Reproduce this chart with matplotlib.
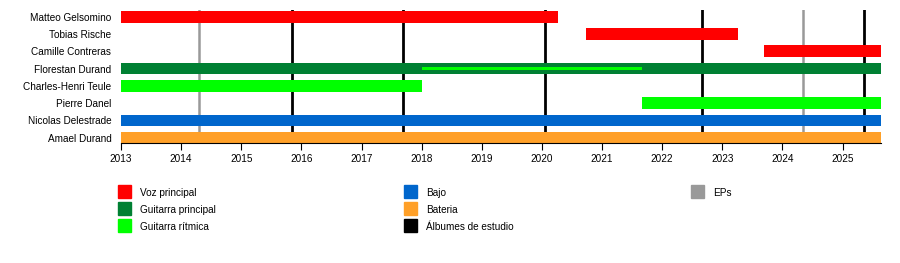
import matplotlib
matplotlib.use("Agg")
import matplotlib.pyplot as plt
from matplotlib.patches import Rectangle

plt.rcParams['font.family'] = ['Liberation Sans', 'DejaVu Sans']

# Members, top to bottom
members = ["Matteo Gelsomino", "Tobias Rische", "Camille Contreras",
           "Florestan Durand", "Charles-Henri Teule", "Pierre Danel",
           "Nicolas Delestrade", "Amael Durand"]

end_date = 2025.64

# (member, start, end, role)
periods = [
    ("Matteo Gelsomino", 2013.0, 2020.27, "Voz principal"),
    ("Tobias Rische", 2020.74, 2023.26, "Voz principal"),
    ("Camille Contreras", 2023.70, end_date, "Voz principal"),
    ("Florestan Durand", 2013.0, end_date, "Guitarra principal"),
    ("Charles-Henri Teule", 2013.0, 2018.0, "Guitarra rítmica"),
    ("Pierre Danel", 2021.66, end_date, "Guitarra rítmica"),
    ("Nicolas Delestrade", 2013.0, end_date, "Bajo"),
    ("Amael Durand", 2013.0, end_date, "Bateria"),
]
# secondary role drawn as a thin bar
thin_periods = [("Florestan Durand", 2018.0, 2021.67, "Guitarra rítmica")]

albums = [2015.84, 2017.69, 2020.06, 2022.67, 2025.35]
eps = [2014.29, 2024.35]

colors = {
    "Voz principal": "#ff0000",
    "Guitarra principal": "#008033",
    "Guitarra rítmica": "#00ff00",
    "Bajo": "#0066cc",
    "Bateria": "#ffa028",
    "Álbumes de estudio": "#000000",
    "EPs": "#999999",
}

W, H = 900, 263
fig = plt.figure(figsize=(9, 2.63), dpi=100)
ax = fig.add_axes([121 / W, 1 - 143.3 / H, (881 - 121) / W, (143.3 - 10) / H])

ypos = {m: len(members) - 1 - i for i, m in enumerate(members)}

for x in albums:
    ax.axvline(x, color=colors["Álbumes de estudio"], lw=2.0, zorder=1)
for x in eps:
    ax.axvline(x, color=colors["EPs"], lw=1.8, zorder=1)

for m, s, e, role in periods:
    ax.barh(ypos[m], e - s, left=s, height=0.68, color=colors[role], zorder=2)
for m, s, e, role in thin_periods:
    ax.barh(ypos[m], e - s, left=s, height=0.2, color=colors[role], zorder=3)

ax.set_xlim(2013, end_date)
ax.set_ylim(-0.32, 7.39)
ax.set_xticks(range(2013, 2026))
ax.set_xticklabels([str(y) for y in range(2013, 2026)], fontsize=7.2)
ax.set_yticks([ypos[m] for m in members])
ax.set_yticklabels(members, fontsize=7.2)
ax.tick_params(axis='y', length=0, pad=7)
ax.tick_params(axis='x', length=5, width=0.8, pad=3, direction='out')
for side in ["left", "right", "top"]:
    ax.spines[side].set_visible(False)
ax.spines["bottom"].set_linewidth(0.8)

# legend
legend_cols = [
    (118, ["Voz principal", "Guitarra principal", "Guitarra rítmica"]),
    (404, ["Bajo", "Bateria", "Álbumes de estudio"]),
    (691, ["EPs"]),
]
row_y = [185, 202, 219]
for x0, labels in legend_cols:
    for lab, y0 in zip(labels, row_y):
        fig.patches.append(Rectangle((x0 / W, 1 - (y0 + 13) / H), 13 / W, 13 / H,
                                     transform=fig.transFigure, color=colors[lab]))
        fig.text((x0 + 22) / W, 1 - (y0 + 7) / H, lab, fontsize=7.2,
                 va='center_baseline')

fig.savefig("out.png", dpi=100)
